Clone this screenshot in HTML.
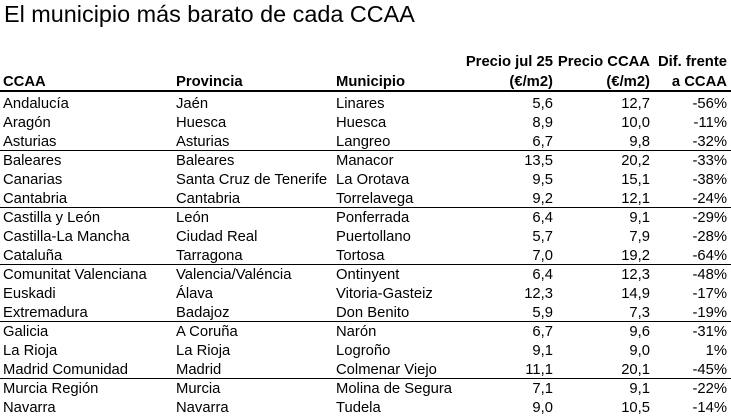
<!DOCTYPE html>
<html><head><meta charset="utf-8"><style>
body{margin:0;width:731px;height:416px;background:#fff;font-family:"Liberation Sans",Arial,sans-serif;color:#000;position:relative;overflow:hidden}
.t{position:absolute;left:4px;top:1px;font-size:23.4px;white-space:nowrap}
.c{position:absolute;font-size:14.8px;white-space:nowrap;line-height:19px}
.b{font-weight:bold}
.r{text-align:right}
.l{position:absolute;left:0;width:731px;background:#000}
</style></head><body>
<div class="t">El municipio más barato de cada CCAA</div>
<div id="tb"></div>
<div class="l" style="top:90px;height:2px"></div>
<div class="l" style="top:150px;height:1px"></div>
<div class="l" style="top:207px;height:1px"></div>
<div class="l" style="top:264px;height:1px"></div>
<div class="l" style="top:321px;height:1px"></div>
<div class="l" style="top:378px;height:1px"></div>
<script>
var d=[["Andalucía","Jaén","Linares","5,6","12,7","-56%"],["Aragón","Huesca","Huesca","8,9","10,0","-11%"],["Asturias","Asturias","Langreo","6,7","9,8","-32%"],["Baleares","Baleares","Manacor","13,5","20,2","-33%"],["Canarias","Santa Cruz de Tenerife","La Orotava","9,5","15,1","-38%"],["Cantabria","Cantabria","Torrelavega","9,2","12,1","-24%"],["Castilla y León","León","Ponferrada","6,4","9,1","-29%"],["Castilla-La Mancha","Ciudad Real","Puertollano","5,7","7,9","-28%"],["Cataluña","Tarragona","Tortosa","7,0","19,2","-64%"],["Comunitat Valenciana","Valencia/Valéncia","Ontinyent","6,4","12,3","-48%"],["Euskadi","Álava","Vitoria-Gasteiz","12,3","14,9","-17%"],["Extremadura","Badajoz","Don Benito","5,9","7,3","-19%"],["Galicia","A Coruña","Narón","6,7","9,6","-31%"],["La Rioja","La Rioja","Logroño","9,1","9,0","1%"],["Madrid Comunidad","Madrid","Colmenar Viejo","11,1","20,1","-45%"],["Murcia Región","Murcia","Molina de Segura","7,1","9,1","-22%"],["Navarra","Navarra","Tudela","9,0","10,5","-14%"]];
var h='';
function L(x,y,t,cl){h+='<div class="c '+cl+'" style="left:'+x+'px;top:'+y+'px">'+t+'</div>';}
function R(x,y,t,cl){h+='<div class="c r '+cl+'" style="right:'+(731-x)+'px;top:'+y+'px">'+t+'</div>';}
L(3,73,'CCAA','b');L(176,73,'Provincia','b');L(336,73,'Municipio','b');
R(553,53,'Precio jul 25','b');R(553,73,'(€/m2)','b');
R(650,53,'Precio CCAA','b');R(650,73,'(€/m2)','b');
R(727,53,'Dif. frente','b');R(727,73,'a CCAA','b');
d.forEach(function(r,i){var y=95+19*i;L(3,y,r[0],'');L(176,y,r[1],'');L(336,y,r[2],'');R(553,y,r[3],'');R(650,y,r[4],'');R(727,y,r[5],'');});
document.getElementById('tb').innerHTML=h;
</script>
</body></html>
